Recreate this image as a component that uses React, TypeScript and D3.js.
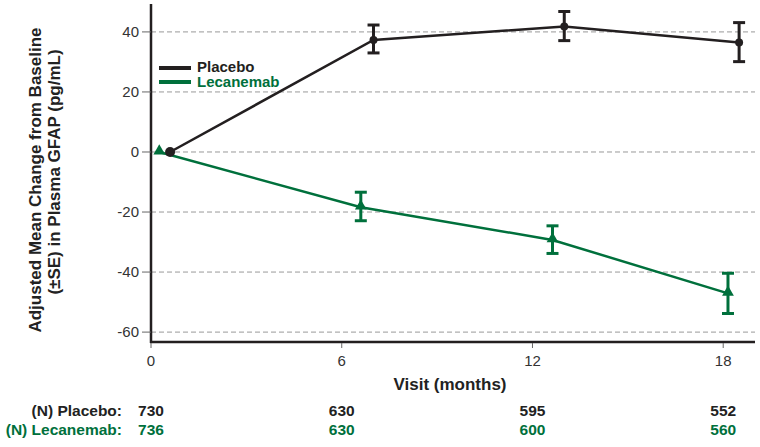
import * as d3 from 'd3'

const placeboMonths = [0.6, 7, 13, 18.5]
const placeboMean = [0, 37.3, 41.8, 36.5]
const placeboLow = [0, 33, 37.1, 30.1]
const placeboHigh = [0, 42.3, 46.8, 43.1]

const lecMonths = [0.26, 6.6, 12.63, 18.15]
const lecMean = [0, -18.4, -29.3, -47.1]
const lecLow = [0, -22.9, -33.8, -53.8]
const lecHigh = [0, -13.4, -24.6, -40.4]

const xTicks = [0, 6, 12, 18]
const yTicks = [40, 20, 0, -20, -40, -60]
const nPlacebo = ['730', '630', '595', '552']
const nLecanemab = ['736', '630', '600', '560']

const BLACK = '#231f20'
const GREEN = '#00703c'
const FONT = 'Liberation Sans, Arial, sans-serif'

export default function App() {
  const width = 760
  const height = 447
  const x = d3.scaleLinear().domain([0, 19]).range([151, 755])
  const y = d3.scaleLinear().domain([-63.3, 49.3]).range([342, 4])

  const line = d3.line<[number, number]>().x((d) => x(d[0])).y((d) => y(d[1]))
  const placebo = placeboMonths.map((m, i) => [m, placeboMean[i]] as [number, number])
  const lec = lecMonths.map((m, i) => [m, lecMean[i]] as [number, number])

  const errBars = (months: number[], lo: number[], hi: number[], color: string) =>
    months.map((m, i) =>
      i === 0 ? null : (
        <g key={i} stroke={color} strokeWidth={3}>
          <line x1={x(m)} x2={x(m)} y1={y(lo[i])} y2={y(hi[i])} />
          <line x1={x(m) - 6} x2={x(m) + 6} y1={y(lo[i])} y2={y(lo[i])} />
          <line x1={x(m) - 6} x2={x(m) + 6} y1={y(hi[i])} y2={y(hi[i])} />
        </g>
      )
    )

  const tri = d3.symbol().type(d3.symbolTriangle).size(60)

  return (
    <svg width={width} height={height} style={{ position: 'absolute', left: 0, top: 0, background: '#fff' }} fontFamily={FONT}>
      {/* grid */}
      {yTicks.map((t) => (
        <line key={t} x1={x(0)} x2={755} y1={y(t)} y2={y(t)} stroke="#999" strokeWidth={1} strokeDasharray="5,3" />
      ))}
      {/* y axis */}
      <line x1={x(0)} x2={x(0)} y1={4} y2={343} stroke={BLACK} strokeWidth={2.5} />
      {yTicks.map((t) => (
        <g key={t}>
          <line x1={x(0) - 9} x2={x(0)} y1={y(t)} y2={y(t)} stroke="#666" strokeWidth={1} />
          <text x={x(0) - 12} y={y(t)} dy="0.35em" textAnchor="end" fontSize={15} fill="#333">{t}</text>
        </g>
      ))}
      {/* x axis */}
      <line x1={x(0) - 1} x2={755} y1={342} y2={342} stroke={BLACK} strokeWidth={2.5} />
      {xTicks.map((t) => (
        <g key={t}>
          <line x1={x(t)} x2={x(t)} y1={343} y2={348} stroke="#666" strokeWidth={1} />
          <text x={x(t)} y={361} dy="0.35em" textAnchor="middle" fontSize={15} fill="#333">{t}</text>
        </g>
      ))}
      <text x={450} y={384} dy="0.35em" textAnchor="middle" fontSize={17} fontWeight="bold" fill="#222">Visit (months)</text>

      {/* y title */}
      <g transform="translate(35,180) rotate(-90)">
        <text textAnchor="middle" dy="0.35em" fontSize={17} fontWeight="bold" fill="#222">Adjusted Mean Change from Baseline</text>
      </g>
      <g transform="translate(54,172) rotate(-90)">
        <text textAnchor="middle" dy="0.35em" fontSize={17} fontWeight="bold" fill="#222">(±SE) in Plasma GFAP (pg/mL)</text>
      </g>

      {/* lines */}
      <path d={line(lec) ?? ''} fill="none" stroke={GREEN} strokeWidth={2.5} />
      <path d={line(placebo) ?? ''} fill="none" stroke={BLACK} strokeWidth={2.5} />
      {errBars(lecMonths, lecLow, lecHigh, GREEN)}
      {errBars(placeboMonths, placeboLow, placeboHigh, BLACK)}
      {lec.map((d, i) => (
        <path key={i} d={tri() ?? ''} transform={`translate(${x(d[0])},${y(d[1]) - 1})`} fill={GREEN} />
      ))}
      {placebo.map((d, i) => (
        <circle key={i} cx={x(d[0])} cy={y(d[1])} r={i === 0 ? 5 : 4} fill={BLACK} />
      ))}

      {/* legend */}
      <line x1={159} x2={191} y1={68} y2={68} stroke={BLACK} strokeWidth={4} />
      <text x={197} y={67} dy="0.35em" fontSize={15} fontWeight="bold" fill={BLACK}>Placebo</text>
      <line x1={159} x2={191} y1={82} y2={82} stroke={GREEN} strokeWidth={4} />
      <text x={197} y={82} dy="0.35em" fontSize={15} fontWeight="bold" fill={GREEN}>Lecanemab</text>

      {/* N table */}
      <text x={122} y={411} dy="0.35em" textAnchor="end" fontSize={15.5} fontWeight="bold" fill="#222">(N) Placebo:</text>
      <text x={122} y={430} dy="0.35em" textAnchor="end" fontSize={15.5} fontWeight="bold" fill={GREEN}>(N) Lecanemab:</text>
      {xTicks.map((t, i) => (
        <g key={t}>
          <text x={x(t)} y={411} dy="0.35em" textAnchor="middle" fontSize={15.5} fontWeight="bold" fill="#222">{nPlacebo[i]}</text>
          <text x={x(t)} y={430} dy="0.35em" textAnchor="middle" fontSize={15.5} fontWeight="bold" fill={GREEN}>{nLecanemab[i]}</text>
        </g>
      ))}
    </svg>
  )
}
